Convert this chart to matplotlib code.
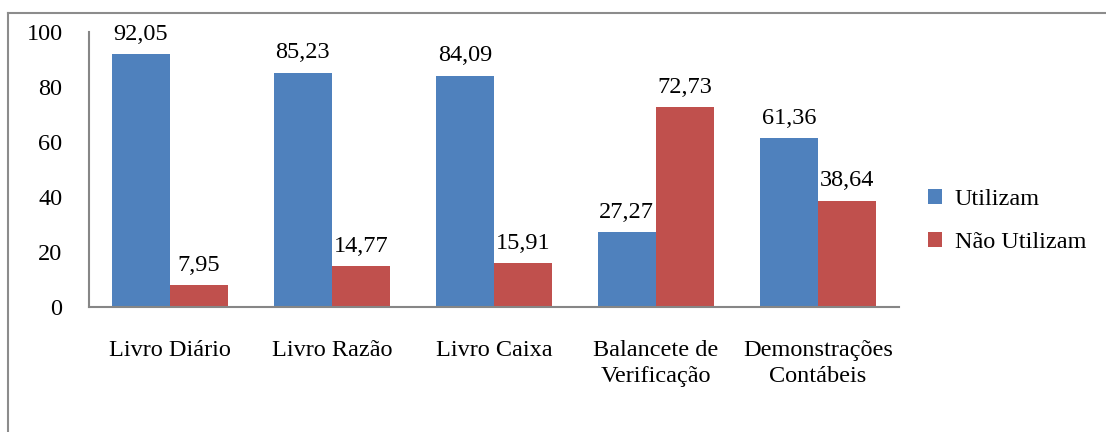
import matplotlib
matplotlib.use("Agg")
from matplotlib import pyplot as plt
from matplotlib.lines import Line2D
import numpy as np

# categories and values (percent)
categories = ["Livro Diário", "Livro Razão", "Livro Caixa",
              "Balancete de\nVerificação", "Demonstrações\nContábeis"]
utilizam = [92.05, 85.23, 84.09, 27.27, 61.36]
nao_utilizam = [7.95, 14.77, 15.91, 72.73, 38.64]
series_names = ["Utilizam", "Não Utilizam"]
yticks = [0, 20, 40, 60, 80, 100]

plt.rcParams['font.family'] = ['Liberation Serif', 'DejaVu Serif']

fig = plt.figure(figsize=(11.06, 4.32), dpi=100)
W, H = 1106, 432
ax = fig.add_axes([89 / W, 1 - 307 / H, 810 / W, (307 - 32) / H])

x = np.arange(len(categories))
w = 0.36
b1 = ax.bar(x - w / 2, utilizam, w, color="#4F81BD", label=series_names[0])
b2 = ax.bar(x + w / 2, nao_utilizam, w, color="#C0504D", label=series_names[1])

fmt = lambda v: f"{v:.2f}".replace(".", ",")
for bars, vals in ((b1, utilizam), (b2, nao_utilizam)):
    for r, v in zip(bars, vals):
        ax.text(r.get_x() + r.get_width() / 2, v + 3.4, fmt(v),
                ha="center", va="bottom", fontsize=17.5)

ax.set_xlim(-0.5, len(categories) - 0.5)
ax.set_ylim(0, 100)
ax.set_yticks(yticks)
ax.set_xticks(x)
ax.set_xticklabels(categories, fontsize=17.5, linespacing=1.3)
ax.tick_params(axis="y", length=0, pad=19, labelsize=17.5)
ax.tick_params(axis="x", length=0, pad=24)
for s in ("top", "right"):
    ax.spines[s].set_visible(False)
for s in ("left", "bottom"):
    ax.spines[s].set_color("#868686")
    ax.spines[s].set_linewidth(1.5)

ax.legend(loc="center left", bbox_to_anchor=(906 / W, 1 - 221 / H),
          bbox_transform=fig.transFigure, frameon=False, fontsize=17.5,
          handlelength=0.6, handleheight=0.6, handletextpad=0.5,
          labelspacing=0.9)

# outer frame, partly cut off
fig.add_artist(Line2D([8 / W, 1.0], [1 - 12.5 / H, 1 - 12.5 / H],
                      color="#8C8C8C", lw=1.5, transform=fig.transFigure))
fig.add_artist(Line2D([8 / W, 8 / W], [0, 1 - 12.5 / H],
                      color="#8C8C8C", lw=1.5, transform=fig.transFigure))
# cut-off title above the frame
fig.text(713 / W, 1 + 8 / H, "p", fontsize=17.5, ha="center", va="baseline")

fig.savefig("out.png", dpi=100)
